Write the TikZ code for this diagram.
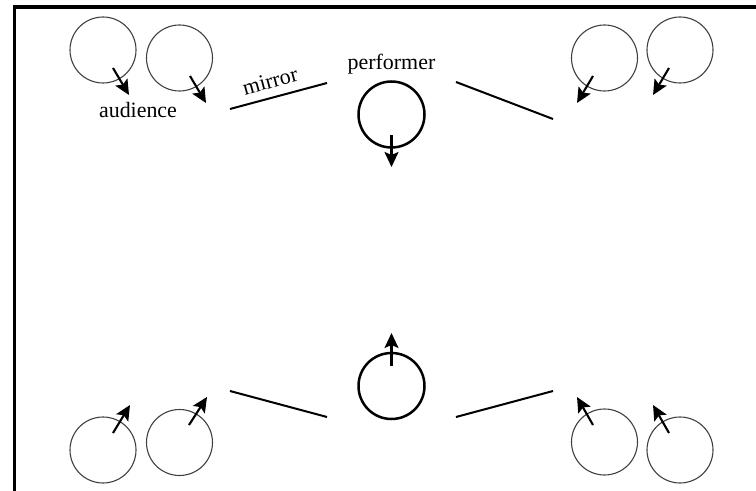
\documentclass[tikz,border=0pt]{standalone}
\usepackage{fontspec}
\setmainfont{Liberation Serif}
\usetikzlibrary{arrows.meta}
\begin{document}
\begin{tikzpicture}[x=1bp,y=-1bp,
  seat/.style={circle,draw=black!75,line width=1.1bp,minimum size=66bp,inner sep=0pt},
  actor/.style={circle,draw=black,line width=2.5bp,minimum size=66bp,inner sep=0pt},
  gaze/.style={line width=2.1bp,-{Stealth[length=15bp,width=14bp,inset=3bp]}},
  glass/.style={line width=2bp},
  lbl/.style={font=\fontsize{22}{24}\selectfont,anchor=base,inner sep=0pt}]
\useasboundingbox (0,0) rectangle (756,491);
% frame (open to the right and bottom)
\draw[line width=3.6bp] (14.5,495) -- (14.5,7) -- (760,7);

% audience, top row
\node[seat] (a1) at (103,50) {};
\node[seat] (a2) at (179.5,58) {};
\node[seat] (a3) at (604.5,58) {};
\node[seat] (a4) at (680,50) {};
% audience, bottom row
\node[seat] (b1) at (103,450) {};
\node[seat] (b2) at (179.5,442.5) {};
\node[seat] (b3) at (604.5,442) {};
\node[seat] (b4) at (680,450) {};
% performers
\node[actor] (p1) at (391.5,114.5) {};
\node[actor] (p2) at (391.5,386) {};

% facing directions
\draw[gaze] ([shift={(10,18)}]a1.center) -- ++(16,27);
\draw[gaze] ([shift={(10.5,18)}]a2.center) -- ++(16,27);
\draw[gaze] ([shift={(-11.5,18)}]a3.center) -- ++(-16,27);
\draw[gaze] ([shift={(-11,18)}]a4.center) -- ++(-16,27);
\draw[gaze] ([shift={(10,-17)}]b1.center) -- ++(17,-28);
\draw[gaze] ([shift={(9.5,-17.5)}]b2.center) -- ++(18,-28);
\draw[gaze] ([shift={(-11.5,-17)}]b3.center) -- ++(-16,-28);
\draw[gaze] ([shift={(-11,-17)}]b4.center) -- ++(-16,-28);
\draw[gaze] ([shift={(0,20.5)}]p1.center) -- ++(0,32);
\draw[gaze] ([shift={(0,-20)}]p2.center) -- ++(0,-33);

% mirrors
\coordinate (m1a) at (230,109); \coordinate (m1b) at (327,83);
\coordinate (m2a) at (456,82);  \coordinate (m2b) at (553,119);
\coordinate (m3a) at (230,391); \coordinate (m3b) at (327,417);
\coordinate (m4a) at (456,417); \coordinate (m4b) at (553,391);
\draw[glass] (m1a) -- (m1b);
\draw[glass] (m2a) -- (m2b);
\draw[glass] (m3a) -- (m3b);
\draw[glass] (m4a) -- (m4b);

% labels
\node[lbl] (taud) at (138,118) {audience};
\node[lbl] (tperf) at (391.5,70) {performer};
\node[lbl,rotate=15] (tmir) at (272,88) {mirror};
\end{tikzpicture}
\end{document}
